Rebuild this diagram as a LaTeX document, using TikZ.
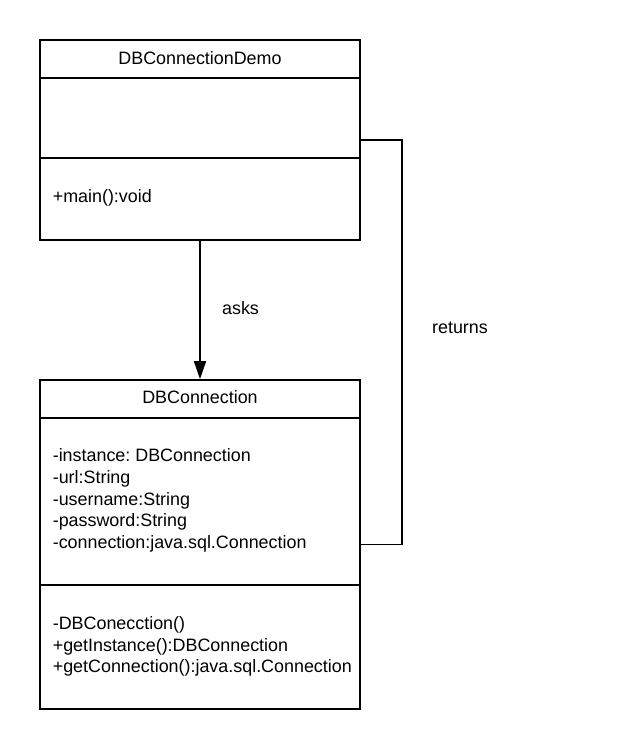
\documentclass[tikz,border=0pt]{standalone}
\usepackage{fontspec}
\setmainfont{Liberation Sans}
\usetikzlibrary{arrows.meta}
\frenchspacing

\begin{document}
\begin{tikzpicture}[x=1pt,y=-1pt,line width=1.6pt,line join=miter,
  font=\fontsize{17.9}{21.6}\selectfont,
  classbox/.style={draw=black,rectangle,inner sep=0pt,minimum width=320pt},
  membertext/.style={anchor=west,align=left,inner sep=0pt}]
\useasboundingbox[fill=white] (0,0) rectangle (620,749);
% DBConnectionDemo
\node[classbox,minimum height=200pt] (demo) at (200,140) {};
\draw (40,78) -- (360,78);
\draw (40,158) -- (360,158);
\node (demotitle) at (200,58) {DBConnectionDemo};
\node[membertext] (demoops) at (52,198) {+main():void};
% DBConnection
\node[classbox,minimum height=329pt] (conn) at (200,544.5) {};
\draw (40,418) -- (360,418);
\draw (40,585) -- (360,585);
\node (conntitle) at (200,397) {DBConnection};
\node[membertext] (connattrs) at (52,500.5) {-instance: DBConnection\\-url:String\\-username:String\\-password:String\\-connection:java.sql.Connection};
\node[membertext] (connops) at (52,646.5) {-DBConecction()\\+getInstance():DBConnection\\+getConnection():java.sql.Connection};
% relations
\draw[-{Triangle[length=18pt,width=12pt]}] (demo.south) -- (conn.north);
\node[anchor=west] (asks) at (218,308) {asks};
\draw (demo.east) -- ++(41,0) |- (conn.east);
\node[anchor=west] (returns) at (428,328) {returns};
\end{tikzpicture}
\end{document}
